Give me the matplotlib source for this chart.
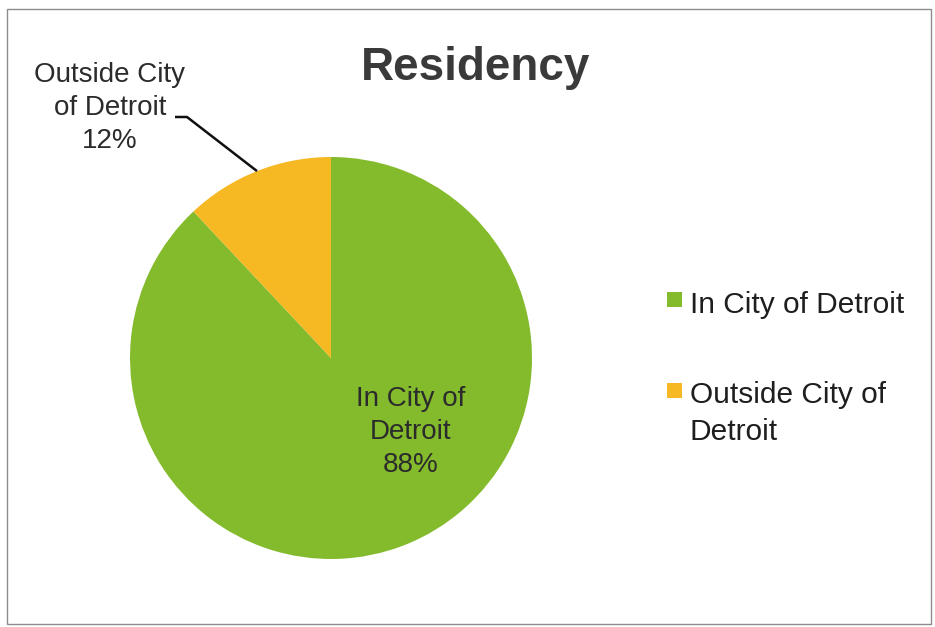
import numpy as np
import matplotlib
matplotlib.use('Agg')
import matplotlib.pyplot as plt
from matplotlib.patches import Rectangle

plt.rcParams['font.family'] = ['Liberation Sans', 'DejaVu Sans']

# Residency split
categories = ['In City of Detroit', 'Outside City of Detroit']
shares = [88, 12]
colors = ['#84BB2C', '#F6B823']
slice_text = ['In City of\nDetroit', 'Outside City\nof Detroit']
legend_text = ['In City of Detroit', 'Outside City of\nDetroit']

W, H = 935, 627
fig = plt.figure(figsize=(W / 100, H / 100), dpi=100)

# axes fill the figure; one data unit equals the pie radius in pixels
R = 201
cx, cy = 331, 358
ax = fig.add_axes([0, 0, 1, 1])
wedges, _ = ax.pie(shares, colors=colors, startangle=90, counterclock=False,
                   radius=1, wedgeprops=dict(linewidth=0))
ax.set_xlim(-cx / R, (W - cx) / R)
ax.set_ylim(-(H - cy) / R, cy / R)
ax.set_aspect('auto')
ax.axis('off')


def px(x, y):
    # pixel position (from top-left) -> data coordinates
    return (x - cx) / R, (cy - y) / R


txt_color = '#2b2b2b'

# label inside the big slice
x, y = px(411, 472)
ax.text(x, y, f'{slice_text[0]}\n{shares[0]}%', ha='center', va='baseline',
        fontsize=20, color=txt_color, linespacing=1.34)

# label outside the small slice, with leader line to its middle
x, y = px(110, 148)
ax.text(x, y, f'{slice_text[1]}\n{shares[1]}%', ha='center', va='baseline',
        fontsize=20, color=txt_color, linespacing=1.34)
w = wedges[1]
mid = np.deg2rad((w.theta1 + w.theta2) / 2)
p0 = px(175, 117)
p1 = px(187, 117)
ax.plot([p0[0], p1[0], np.cos(mid)], [p0[1], p1[1], np.sin(mid)],
        color='#101010', lw=1.8, solid_capstyle='butt')

# title
fig.text(476 / W, 1 - 80 / H, 'Residency', ha='center', va='baseline',
         fontsize=33, fontweight='bold', color='#3a3a3a')

# legend drawn by hand so the swatch sits on the first line of wrapped text
baselines = [313, 440]
swatch_top = [292, 383]
for lab, col, base, top in zip(legend_text, colors, baselines, swatch_top):
    fig.add_artist(Rectangle((667 / W, 1 - (top + 15) / H), 15 / W, 15 / H,
                             transform=fig.transFigure, facecolor=col,
                             edgecolor='none'))
    fig.text(690 / W, 1 - base / H, lab, ha='left', va='baseline',
             fontsize=21.5, color='#1e1e1e', linespacing=1.4)

# chart border
fig.add_artist(Rectangle((7 / W, 1 - 624 / H), (931 - 7) / W, (624 - 9) / H,
                         transform=fig.transFigure, fill=False,
                         edgecolor='#8c8c8c', lw=1))

fig.savefig('out.png', dpi=100, facecolor='white')
